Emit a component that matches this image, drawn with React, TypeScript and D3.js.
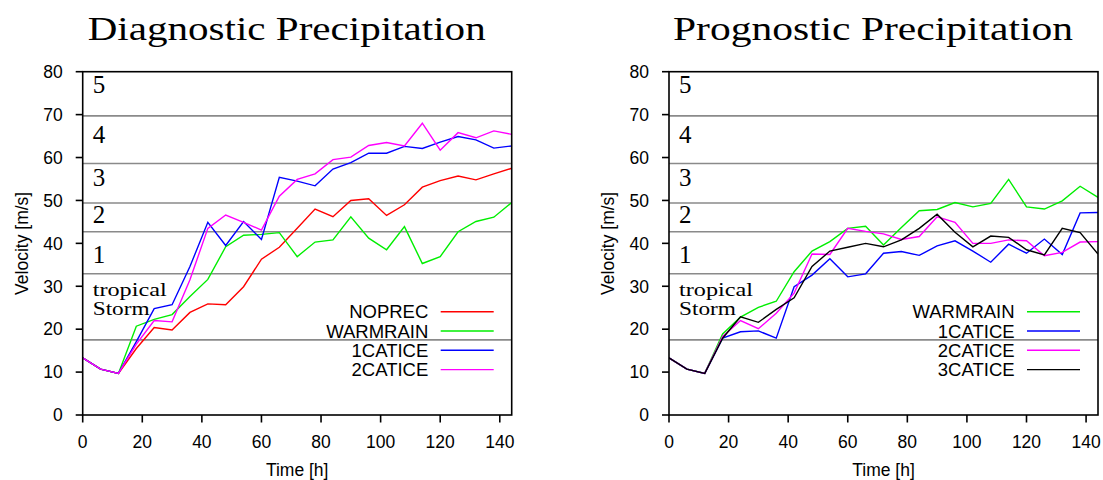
import React from "react";
import * as d3 from "d3";

const hours = [0, 6, 12, 18, 24, 30, 36, 42, 48, 54, 60, 66, 72, 78, 84, 90, 96, 102, 108, 114, 120, 126, 132, 138, 144];

const diagNOPREC = [13.3, 10.7, 9.7, 15.5, 20.4, 19.8, 23.9, 25.9, 25.7, 29.9, 36.3, 39.1, 43.5, 48.0, 46.2, 50.0, 50.4, 46.5, 49.0, 53.1, 54.6, 55.7, 54.8, 56.2, 57.5];
const diagWARMRAIN = [13.3, 10.7, 9.7, 20.7, 22.3, 23.4, 27.6, 31.6, 39.2, 41.9, 42.1, 42.5, 36.9, 40.3, 40.8, 46.2, 41.2, 38.5, 43.9, 35.3, 36.9, 42.7, 45.1, 46.1, 49.5];
const diag1CATICE = [13.3, 10.7, 9.7, 17.1, 24.8, 25.7, 34.6, 44.9, 39.5, 45.1, 40.9, 55.4, 54.5, 53.4, 57.3, 58.8, 61.0, 61.0, 62.6, 62.1, 63.6, 64.9, 64.1, 62.2, 62.7];
const diag2CATICE = [13.3, 10.7, 9.7, 16.5, 22.0, 21.7, 31.5, 43.5, 46.6, 44.9, 43.1, 51.0, 54.9, 56.2, 59.5, 60.1, 62.8, 63.5, 62.7, 68.0, 61.7, 65.8, 64.6, 66.2, 65.4];

const progWARMRAIN = [13.3, 10.7, 9.7, 18.9, 22.8, 25.1, 26.5, 33.4, 38.2, 40.4, 43.5, 44.0, 39.6, 43.7, 47.6, 47.9, 49.5, 48.5, 49.3, 54.9, 48.5, 48.0, 49.9, 53.3, 50.7];
const prog1CATICE = [13.3, 10.7, 9.7, 17.9, 19.4, 19.6, 17.9, 29.9, 32.6, 36.4, 32.2, 32.9, 37.7, 38.1, 37.2, 39.4, 40.6, 38.2, 35.6, 39.8, 37.7, 41.0, 37.4, 47.1, 47.2];
const prog2CATICE = [13.3, 10.7, 9.7, 18.3, 22.0, 20.1, 23.7, 28.4, 37.5, 37.4, 43.5, 42.8, 42.2, 40.9, 41.6, 46.2, 44.9, 40.0, 40.0, 40.8, 40.6, 37.1, 37.9, 40.3, 40.4];
const prog3CATICE = [13.3, 10.7, 9.7, 17.9, 22.9, 21.6, 24.6, 27.3, 34.6, 38.2, 39.1, 40.0, 39.2, 40.8, 43.5, 46.8, 42.6, 39.2, 41.7, 41.4, 38.5, 37.3, 43.5, 42.5, 37.5];

const categoryThresholds = [17.5, 32.9, 42.7, 49.4, 58.6, 69.7];
const categoryLabels = ["5", "4", "3", "2", "1"];
const categoryLabelValues = [75.0, 63.3, 53.4, 44.7, 35.4];
const stormLabels = ["tropical", "Storm"];
const stormLabelValues = [27.7, 23.2];

const xTicks = [0, 20, 40, 60, 80, 100, 120, 140];
const yTicks = [0, 10, 20, 30, 40, 50, 60, 70, 80];

const SANS = "'Liberation Sans', Arial, Helvetica, sans-serif";
const SERIF = "'Liberation Serif', 'Times New Roman', serif";

type Series = { name: string; color: string; values: number[] };

const diagSeries: Series[] = [
  { name: "NOPREC", color: "#ff0000", values: diagNOPREC },
  { name: "WARMRAIN", color: "#00ee00", values: diagWARMRAIN },
  { name: "1CATICE", color: "#0000ff", values: diag1CATICE },
  { name: "2CATICE", color: "#ff00ff", values: diag2CATICE },
];
const progSeries: Series[] = [
  { name: "WARMRAIN", color: "#00ee00", values: progWARMRAIN },
  { name: "1CATICE", color: "#0000ff", values: prog1CATICE },
  { name: "2CATICE", color: "#ff00ff", values: prog2CATICE },
  { name: "3CATICE", color: "#000000", values: prog3CATICE },
];

function Panel({ left, title, titleWidth, series }: { left: number; title: string; titleWidth: number; series: Series[] }) {
  const right = left + 429;
  const top = 71.7;
  const bottom = 415;
  const x = d3.scaleLinear().domain([0, 144]).range([left, right]);
  const y = d3.scaleLinear().domain([0, 80]).range([bottom, top]);
  const line = d3
    .line<number>()
    .x((_, i) => x(hours[i]))
    .y((v) => y(v));
  const cx = (left + right) / 2;
  const clipId = "clip" + Math.round(left);
  return (
    <g>
      <defs>
        <clipPath id={clipId}>
          <rect x={left} y={top} width={right - left} height={bottom - top} />
        </clipPath>
      </defs>
      <text
        x={cx - 10.5}
        y={40}
        textAnchor="middle"
        fontFamily={SERIF}
        fontSize={34}
        textLength={titleWidth}
        lengthAdjust="spacingAndGlyphs"
      >
        {title}
      </text>
      {categoryThresholds.map((t, i) => (
        <line key={"c" + i} x1={left} x2={right} y1={y(t)} y2={y(t)} stroke="#8a8a8a" strokeWidth={1.6} />
      ))}
      {categoryLabels.map((l, i) => (
        <text key={"cl" + i} x={left + 10} y={y(categoryLabelValues[i])} fontFamily={SERIF} fontSize={25}>
          {l}
        </text>
      ))}
      {stormLabels.map((l, i) => (
        <text
          key={"sl" + i}
          x={left + 10}
          y={y(stormLabelValues[i])}
          fontFamily={SERIF}
          fontSize={19.5}
          textLength={i === 0 ? 74 : 57}
          lengthAdjust="spacingAndGlyphs"
        >
          {l}
        </text>
      ))}
      <g clipPath={`url(#${clipId})`}>
        {series.map((s) => (
          <path key={s.name} d={line(s.values) || ""} fill="none" stroke={s.color} strokeWidth={1.4} strokeLinejoin="miter" />
        ))}
      </g>
      <rect x={left} y={top} width={right - left} height={bottom - top} fill="none" stroke="#000" strokeWidth={1.6} />
      {yTicks.map((t) => (
        <g key={"yt" + t}>
          <line x1={left - 7} x2={left} y1={y(t)} y2={y(t)} stroke="#000" strokeWidth={1.6} />
          <text x={left - 20} y={y(t) + 6.3} textAnchor="end" fontFamily={SANS} fontSize={17.5}>
            {t}
          </text>
        </g>
      ))}
      {xTicks.map((t) => (
        <g key={"xt" + t}>
          <line x1={x(t)} x2={x(t)} y1={bottom} y2={bottom + 7.5} stroke="#000" strokeWidth={1.6} />
          <text x={x(t)} y={448.3} textAnchor="middle" fontFamily={SANS} fontSize={17.5}>
            {t}
          </text>
        </g>
      ))}
      <text x={cx} y={476} textAnchor="middle" fontFamily={SANS} fontSize={17.5}>
        Time [h]
      </text>
      <text
        transform={`translate(${left - 55},${(top + bottom) / 2}) rotate(-90)`}
        textAnchor="middle"
        fontFamily={SANS}
        fontSize={17.5}
      >
        Velocity [m/s]
      </text>
      {series.map((s, i) => {
        const ly = 311.7 + i * 19.3;
        return (
          <g key={"lg" + s.name}>
            <text x={left + 345.6} y={ly + 6.6} textAnchor="end" fontFamily={SANS} fontSize={18.5}>
              {s.name}
            </text>
            <line x1={left + 358} x2={left + 411} y1={ly} y2={ly} stroke={s.color} strokeWidth={1.4} />
          </g>
        );
      })}
    </g>
  );
}

export default function App() {
  return (
    <svg
      width={1103}
      height={480}
      style={{ position: "absolute", left: 0, top: 0, background: "#fff" }}
    >
      <rect x={0} y={0} width={1103} height={480} fill="#fff" />
      <Panel left={82.7} title="Diagnostic Precipitation" titleWidth={398} series={diagSeries} />
      <Panel left={669} title="Prognostic Precipitation" titleWidth={400} series={progSeries} />
    </svg>
  );
}
